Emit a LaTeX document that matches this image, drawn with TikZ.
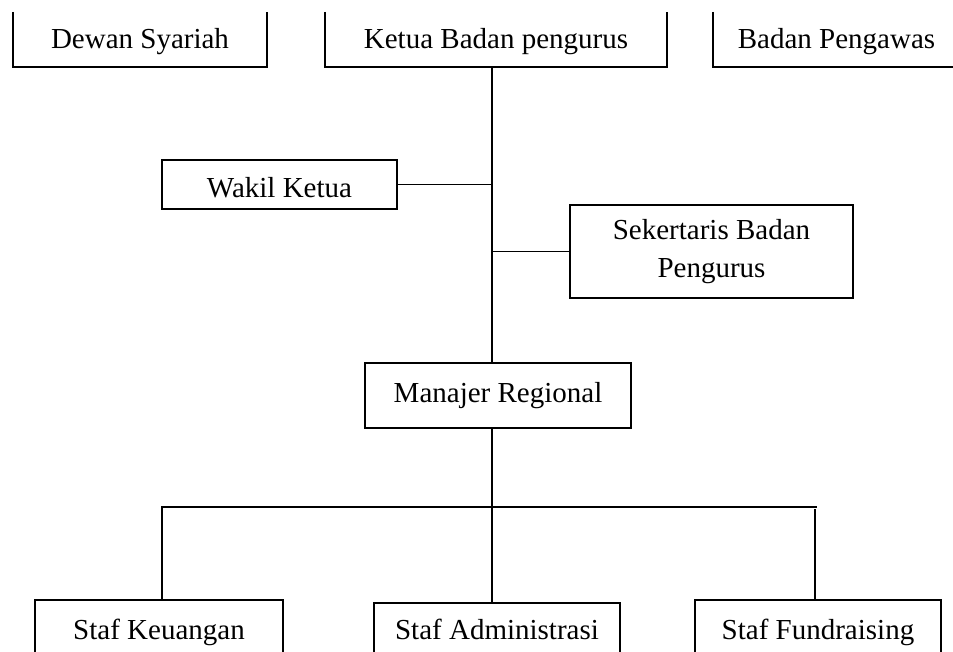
\documentclass[tikz,border=0pt]{standalone}
\usepackage{fontspec}
\setmainfont{Liberation Serif}
\begin{document}
\begin{tikzpicture}[x=1pt,y=-1pt,
  box/.style={draw,line width=1.6pt,rectangle,inner sep=0pt,font=\fontsize{29}{38}\selectfont},
  openbox/.style={draw=none,rectangle,inner sep=0pt,font=\fontsize{29}{38}\selectfont},
  conn/.style={line width=1.6pt}]
\useasboundingbox (0,0) rectangle (953,652);
\clip (0,0) rectangle (953,652);
% top (open) boxes
\node[openbox,minimum width=254pt,minimum height=55pt,text height=19pt,text depth=0pt] (dewan) at (140,39.5) {Dewan Syariah};
\node[openbox,minimum width=342pt,minimum height=55pt,text height=19pt,text depth=0pt] (ketua) at (496,39.5) {Ketua Badan pengurus};
\node[openbox,minimum width=247pt,minimum height=55pt,text height=19pt,text depth=0pt] (badan) at (836.5,39.5) {Badan Pengawas};
\draw[conn] (dewan.north west) -- (dewan.south west) -- (dewan.south east) -- (dewan.north east);
\draw[conn] (ketua.north west) -- (ketua.south west) -- (ketua.south east) -- (ketua.north east);
\draw[conn] (badan.north west) -- (badan.south west) -- (badan.south east);
% middle boxes
\node[box,minimum width=235pt,minimum height=49pt,text height=27pt,text depth=0pt] (wakil) at (279.5,184.5) {Wakil Ketua};
\node[box,minimum width=283pt,minimum height=93pt,align=center] (sek) at (711.5,251.5) {Sekertaris Badan\\Pengurus};
\node[box,minimum width=266pt,minimum height=65pt,text height=22pt,text depth=8pt] (man) at (498,395.5) {Manajer Regional};
% bottom boxes
\node[box,minimum width=248pt,minimum height=76pt,text height=11pt,text depth=9pt] (keu) at (159,638) {Staf Keuangan};
\node[box,minimum width=246pt,minimum height=73pt,text height=11pt,text depth=12pt] (adm) at (497,639.5) {Staf Administrasi};
\node[box,minimum width=246pt,minimum height=76pt,text height=11pt,text depth=9pt] (fund) at (818,638) {Staf Fundraising};
% connectors
\coordinate (spine) at (492,0);
\coordinate (busL) at (162,507);
\coordinate (busR) at (817,507);
\coordinate (fundtop) at (815,509);
\draw[conn] (ketua.south -| spine) -- (man.north -| spine);
\draw[conn] (wakil.east) -- (wakil.east -| spine);
\draw[conn] (sek.west) -- (sek.west -| spine);
\draw[conn] (man.south -| spine) -- (adm.north -| spine);
\draw[conn] (keu.north -| busL) -- (busL) -- (busR);
\draw[conn] (fundtop) -- (fund.north -| fundtop);
\end{tikzpicture}
\end{document}
